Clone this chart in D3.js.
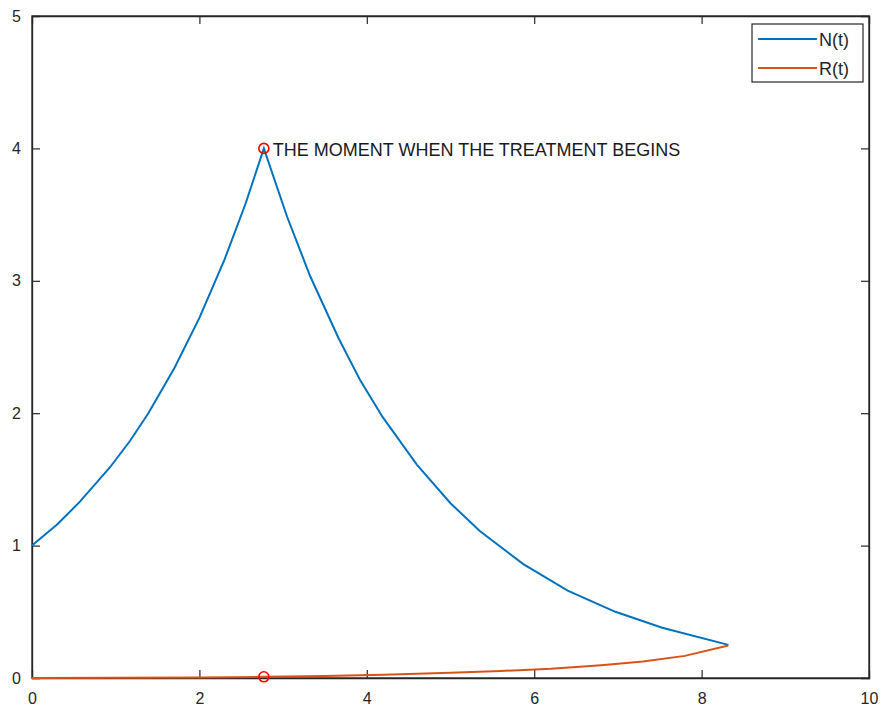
<!DOCTYPE html>
<html>
<head>
<meta charset="utf-8">
<script src="https://cdn.jsdelivr.net/npm/d3@7/dist/d3.min.js"></script>
<style>
  html, body { margin: 0; padding: 0; background: #fff; }
  svg { display: block; }
  text { font-family: "Liberation Sans", Arial, Helvetica, sans-serif; }
</style>
</head>
<body>
<svg id="chart" width="884" height="712"></svg>
<script>
// Tumour population N(t) and resistant population R(t)
const tN = [0, 0.3, 0.57, 0.93, 1.17, 1.39, 1.7, 2.0, 2.3, 2.55, 2.77,
            3.05, 3.32, 3.66, 3.92, 4.19, 4.6, 5.0, 5.35, 5.87, 6.4, 6.97, 7.53, 8.32];
const vN = [1.0, 1.16, 1.33, 1.59, 1.79, 2.0, 2.34, 2.72, 3.16, 3.58, 4.0,
            3.48, 3.04, 2.57, 2.25, 1.97, 1.61, 1.32, 1.11, 0.86, 0.66, 0.50, 0.38, 0.25];
const tR = [0, 1.0, 2.0, 2.77, 3.5, 4.2, 5.0, 5.6, 6.2, 6.8, 7.3, 7.8, 8.32];
const vR = [0.0, 0.001, 0.004, 0.009, 0.016, 0.025, 0.04, 0.053, 0.07, 0.097, 0.125, 0.167, 0.245];

// treatment start marker
const tStart = 2.77;
const markN = 4.0;
const markR = 0.009;
const noteText = "THE MOMENT WHEN THE TREATMENT BEGINS";

const xTicks = [0, 2, 4, 6, 8, 10];
const yTicks = [0, 1, 2, 3, 4, 5];
const seriesNames = ["N(t)", "R(t)"];
const seriesColors = ["#0072BD", "#D95319"];

const svg = d3.select("#chart");
const L = 32, R = 869, T = 16, B = 678;

const x = d3.scaleLinear().domain([0, 10]).range([L, R]);
const y = d3.scaleLinear().domain([0, 5]).range([B, T]);

const axisColor = "#262626";
const tickLen = 8;

// axes with inward ticks on all four sides
const gx = svg.append("g").attr("transform", `translate(0,${B})`)
  .call(d3.axisBottom(x).tickValues(xTicks).tickSize(-tickLen).tickPadding(15).tickFormat(d3.format("d")));
const gxTop = svg.append("g").attr("transform", `translate(0,${T})`)
  .call(d3.axisTop(x).tickValues(xTicks).tickSize(-tickLen).tickFormat(""));
const gy = svg.append("g").attr("transform", `translate(${L},0)`)
  .call(d3.axisLeft(y).tickValues(yTicks).tickSize(-tickLen).tickPadding(11).tickFormat(d3.format("d")));
const gyRight = svg.append("g").attr("transform", `translate(${R},0)`)
  .call(d3.axisRight(y).tickValues(yTicks).tickSize(-tickLen).tickFormat(""));

[gx, gxTop, gy, gyRight].forEach(g => {
  g.select(".domain").attr("stroke", axisColor).attr("stroke-width", 1.3);
  g.selectAll(".tick line").attr("stroke", axisColor).attr("stroke-width", 1.2);
  g.selectAll(".tick text").attr("fill", axisColor).style("font-size", "16px")
    .style("font-family", "'Liberation Sans', Arial, sans-serif");
});
// drop ticks that sit on the frame corners
[gx, gxTop].forEach(g => g.selectAll(".tick line").filter(d => d === 0 || d === 10).remove());
[gy, gyRight].forEach(g => g.selectAll(".tick line").filter(d => d === 0 || d === 5).remove());

// frame
svg.append("rect").attr("x", L).attr("y", T).attr("width", R - L).attr("height", B - T)
  .attr("fill", "none").attr("stroke", axisColor).attr("stroke-width", 1.3);

const line = d3.line().x(d => x(d[0])).y(d => y(d[1]));

svg.append("path").datum(tN.map((t, i) => [t, vN[i]]))
  .attr("d", line).attr("fill", "none").attr("stroke", seriesColors[0]).attr("stroke-width", 2);
svg.append("path").datum(tR.map((t, i) => [t, vR[i]]))
  .attr("d", line).attr("fill", "none").attr("stroke", seriesColors[1]).attr("stroke-width", 2);

// markers at treatment start
svg.selectAll("circle.mark").data([[tStart, markN], [tStart, markR]]).enter()
  .append("circle").attr("class", "mark")
  .attr("cx", d => x(d[0])).attr("cy", d => y(d[1])).attr("r", 5)
  .attr("fill", "none").attr("stroke", "#FF0000").attr("stroke-width", 1.6);

svg.append("text").attr("x", x(tStart) + 9).attr("y", y(markN) + 8)
  .attr("fill", "#1a1a1a").style("font-size", "18px").text(noteText);

// legend
const lg = svg.append("g");
lg.append("rect").attr("x", 752).attr("y", 24).attr("width", 111).attr("height", 58)
  .attr("fill", "#fff").attr("stroke", axisColor).attr("stroke-width", 1.2);
seriesNames.forEach((name, i) => {
  const yy = 39 + i * 29;
  lg.append("line").attr("x1", 758).attr("x2", 817).attr("y1", yy).attr("y2", yy)
    .attr("stroke", seriesColors[i]).attr("stroke-width", 2);
  lg.append("text").attr("x", 819).attr("y", yy + 7).attr("fill", axisColor)
    .style("font-size", "18px").text(name);
});
</script>
</body>
</html>
